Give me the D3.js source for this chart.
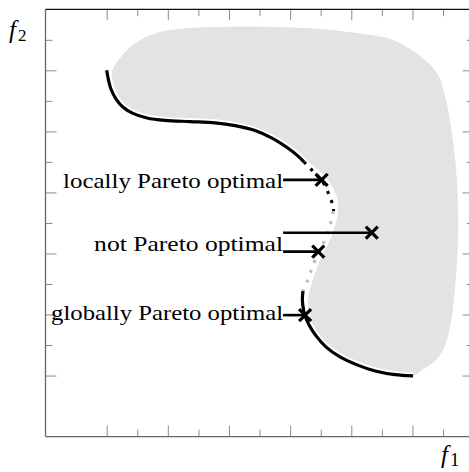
<!DOCTYPE html>
<html>
<head>
<meta charset="utf-8">
<script src="https://cdn.jsdelivr.net/npm/d3@7"></script>
<style>
  body { margin: 0; background: #fff; }
  svg { display: block; }
</style>
</head>
<body>
<script>
// Pareto front (f1, f2), split by kind of optimality
const frontUpper = [[2.0,12.0],[2.06,11.68],[2.14,11.39],[2.31,11.06],[2.53,10.80],[2.86,10.59],[3.32,10.44],
  [3.91,10.36],[4.73,10.32],[5.54,10.28],[6.20,10.19],[6.85,10.03],[7.41,9.78],[7.90,9.47],[8.26,9.19],[8.45,9.00]];
const frontLocal = [[8.45,9.00],[8.65,8.80],[8.85,8.57],[9.03,8.41],[9.17,8.15],[9.30,7.85],[9.40,7.56],[9.42,7.39]];
const frontNonOpt = [[9.42,7.39],[9.35,7.10],[9.24,6.70],[9.07,6.31],[8.91,5.98],[8.75,5.62],[8.62,5.26],[8.49,4.90],[8.42,4.77]];
const frontLower = [[8.42,4.77],[8.40,4.48],[8.44,4.15],[8.49,3.95],[8.62,3.66],[8.85,3.30],[9.17,2.94],[9.63,2.61],
  [10.19,2.35],[10.78,2.15],[11.43,2.03],[12.02,1.99]];

// feasible region: outer edge (from lower end, counter-clockwise) and bulge beside the dotted part
const regionOuter = [[12.02,1.99],[12.31,2.18],[12.67,2.41],[13.00,2.84],[13.23,3.59],[13.39,4.80],[13.49,6.44],
  [13.46,8.31],[13.29,9.95],[13.06,11.19],[12.80,11.91],[12.25,12.47],[11.76,12.80],[11.27,13.03],[10.19,13.22],
  [9.07,13.35],[7.44,13.42],[5.94,13.43],[4.73,13.39],[3.74,13.26],[3.09,12.99],[2.67,12.67],[2.34,12.27],[2.17,11.95],[2.21,11.59]];
const regionBulge = [[8.65,8.96],[9.14,8.54],[9.40,8.15],[9.53,7.85],[9.57,7.52],[9.52,7.10],[9.30,6.44],[8.98,5.79],
  [8.71,5.03],[8.58,4.48],[8.65,3.93]];

// annotations
const labels = ['locally Pareto optimal', 'not Pareto optimal', 'globally Pareto optimal'];
const labelWidths = [220, 189, 232];
const labelBaselines = [8.16, 6.08, 3.81];
const labelLineX = 7.77;
const markers = [[9.03,8.41,0],[10.67,6.68,1],[8.92,6.06,1],[8.49,3.98,2]];

const majorTicks = [2,4,6,8,10,12];
const minorTicks = [3,5,7,9,11,13];

const W = 469, H = 472;
const x = d3.scaleLinear().domain([0,14]).range([45.5, 473.6]);
const y = d3.scaleLinear().domain([0,14]).range([436.6, 9.3]);

const svg = d3.select('body').append('svg')
    .attr('width', W)
    .attr('height', H);

// region
const regionPts = regionOuter
    .concat(frontUpper.slice(3, 15))
    .concat(regionBulge)
    .concat(frontLower.slice(5, 11));
svg.append('path')
    .attr('d', d3.line().x(d => x(d[0])).y(d => y(d[1])).curve(d3.curveCatmullRomClosed)(regionPts))
    .attr('fill', '#e3e3e3');

// ticks, pointing inward on all four sides
function ticks(axis, tv, size, tr) {
    const g = svg.append('g')
        .attr('transform', tr)
        .call(axis.tickValues(tv).tickSize(-size).tickFormat(''));
    g.select('.domain').remove();
    g.selectAll('line').attr('stroke', '#8c8c8c').attr('stroke-width', 1);
}
[[majorTicks, 11], [minorTicks, 7]].forEach(([tv, s]) => {
    ticks(d3.axisBottom(x), tv, s, `translate(0,${y(0)})`);
    ticks(d3.axisTop(x), tv, s, `translate(0,${y(14)})`);
    ticks(d3.axisLeft(y), tv, s, `translate(${x(0)},0)`);
    ticks(d3.axisRight(y), tv, s, `translate(${x(14)},0)`);
});

// frame
svg.append('line').attr('x1', x(0)).attr('x2', x(14)).attr('y1', y(14)).attr('y2', y(14))
    .attr('stroke', '#111').attr('stroke-width', 1.3);
svg.append('line').attr('x1', x(0)).attr('x2', x(0)).attr('y1', y(14)).attr('y2', y(0))
    .attr('stroke', '#666').attr('stroke-width', 1.3);
svg.append('line').attr('x1', x(0)).attr('x2', x(14)).attr('y1', y(0)).attr('y2', y(0))
    .attr('stroke', '#666').attr('stroke-width', 1.3);
svg.append('line').attr('x1', x(14)).attr('x2', x(14)).attr('y1', y(14)).attr('y2', y(0))
    .attr('stroke', '#666').attr('stroke-width', 1.3);

// front
const line = d3.line().x(d => x(d[0])).y(d => y(d[1])).curve(d3.curveCatmullRom);
const all = frontUpper.concat(frontLocal.slice(1), frontNonOpt.slice(1), frontLower.slice(1));
svg.append('path').attr('d', line(all)).attr('fill', 'none')
    .attr('stroke', '#fff').attr('stroke-width', 7);

svg.append('path').attr('d', line(frontUpper)).attr('fill', 'none')
    .attr('stroke', '#000').attr('stroke-width', 3.2);
svg.append('path').attr('d', line(frontLocal)).attr('fill', 'none')
    .attr('stroke', '#000').attr('stroke-width', 3.2).attr('stroke-dasharray', '3,6.5');
svg.append('path').attr('d', line(frontNonOpt)).attr('fill', 'none')
    .attr('stroke', '#bdbdbd').attr('stroke-width', 3.2).attr('stroke-dasharray', '3,7.5');
svg.append('path').attr('d', line(frontLower)).attr('fill', 'none')
    .attr('stroke', '#000').attr('stroke-width', 3.2);

// labels with pointer lines
labels.forEach((t, i) => {
    svg.append('text')
        .attr('x', x(labelLineX))
        .attr('y', y(labelBaselines[i]))
        .attr('text-anchor', 'end')
        .attr('textLength', labelWidths[i])
        .attr('lengthAdjust', 'spacingAndGlyphs')
        .style('font-family', '"Liberation Serif", serif')
        .style('font-size', '21px')
        .text(t);
});
svg.selectAll('.pointer')
    .data(markers)
    .enter()
    .append('line')
    .attr('class', 'pointer')
    .attr('x1', x(labelLineX))
    .attr('x2', d => x(d[0]))
    .attr('y1', d => y(d[1]))
    .attr('y2', d => y(d[1]))
    .attr('stroke', '#000')
    .attr('stroke-width', 2.6);

const cross = svg.selectAll('.cross')
    .data(markers)
    .enter()
    .append('g')
    .attr('class', 'cross')
    .attr('transform', d => `translate(${x(d[0])},${y(d[1])})`);
cross.append('path')
    .attr('d', 'M-6,-6L6,6M-6,6L6,-6')
    .attr('stroke', '#000')
    .attr('stroke-width', 3.2);

// axis names
const f2 = svg.append('text')
    .attr('x', 9).attr('y', 38)
    .style('font-family', '"Liberation Serif", serif');
f2.append('tspan').style('font-style', 'italic').style('font-size', '25px').text('f');
f2.append('tspan').attr('dy', 3).attr('dx', 2).style('font-size', '17px').text('2');

const f1 = svg.append('text')
    .attr('x', 441).attr('y', 463)
    .style('font-family', '"Liberation Serif", serif');
f1.append('tspan').style('font-style', 'italic').style('font-size', '25px').text('f');
f1.append('tspan').attr('dy', 3).attr('dx', 2).style('font-size', '19px').text('1');
</script>
</body>
</html>
